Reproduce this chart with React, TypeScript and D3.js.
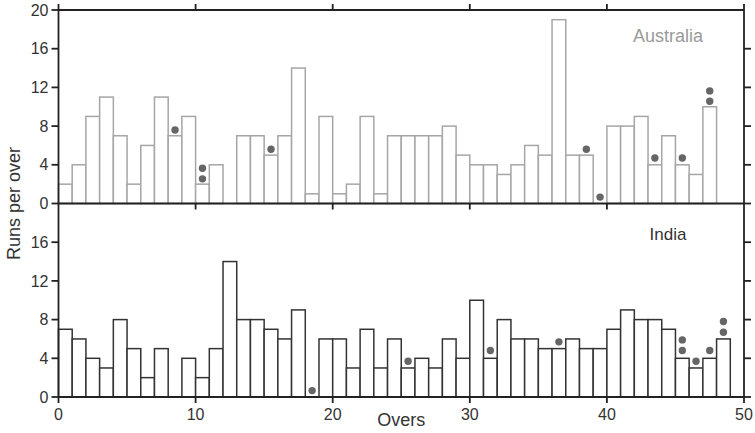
import React from "react";
import * as d3 from "d3";

const ausRuns = [2, 4, 9, 11, 7, 2, 6, 11, 7, 9, 2, 4, 0, 7, 7, 5, 7, 14, 1, 9, 1, 2, 9, 1, 7, 7, 7, 7, 8, 5, 4, 4, 3, 4, 6, 5, 19, 5, 5, 0, 8, 8, 9, 4, 7, 4, 3, 10];
const indRuns = [7, 6, 4, 3, 8, 5, 2, 5, 0, 4, 2, 5, 14, 8, 8, 7, 6, 9, 0, 6, 6, 3, 7, 3, 6, 3, 4, 3, 6, 4, 10, 4, 8, 6, 6, 5, 5, 6, 5, 5, 7, 9, 8, 8, 7, 4, 3, 4, 6];

const ausWicketOvers = [8, 10, 10, 15, 38, 39, 43, 45, 47, 47];
const ausWicketY = [7.6, 2.55, 3.65, 5.6, 5.6, 0.66, 4.7, 4.7, 10.57, 11.64];
const indWicketOvers = [18, 25, 31, 36, 45, 45, 46, 47, 48, 48];
const indWicketY = [0.66, 3.7, 4.8, 5.7, 4.8, 5.9, 3.7, 4.8, 6.7, 7.8];

const xTicks = [0, 10, 20, 30, 40, 50];
const topYTicks = [0, 4, 8, 12, 16, 20];
const botYTicks = [0, 4, 8, 12, 16];
const rightTicks = [4, 8, 12, 16];

const W = 755;
const H = 433;
const left = 58.5;
const right = 744;
const top = 10;
const mid = 203.5;
const bottom = 397;
const FONT = "'Liberation Sans', Arial, sans-serif";
const AXIS = "#222";
const TXT = "#333";

export default function App() {
  const x = d3.scaleLinear().domain([0, 50]).range([left, right]);
  const yTop = d3.scaleLinear().domain([0, 20]).range([mid, top]);
  const yBot = d3.scaleLinear().domain([0, 20]).range([bottom, mid]);

  const bars = (data: number[], y: d3.ScaleLinear<number, number>, stroke: string, key: string) =>
    data.map((v, i) =>
      v > 0 ? (
        <rect
          key={key + i}
          x={x(i)}
          y={y(v)}
          width={x(i + 1) - x(i)}
          height={y(0) - y(v)}
          fill="white"
          stroke={stroke}
          strokeWidth={1.5}
        />
      ) : null
    );

  const dots = (overs: number[], ys: number[], y: d3.ScaleLinear<number, number>, key: string) =>
    overs.map((o, i) => (
      <circle key={key + i} cx={x(o + 0.5)} cy={y(ys[i])} r={3.7} fill="#666" />
    ));

  const tl = 7;
  return (
    <svg width={W} height={H} style={{ position: "absolute", left: 0, top: 0, background: "white" }}>
      <rect x={0} y={0} width={W} height={H} fill="white" />
      {bars(ausRuns, yTop, "#a6a6a6", "a")}
      {bars(indRuns, yBot, "#333", "b")}
      {dots(ausWicketOvers, ausWicketY, yTop, "ad")}
      {dots(indWicketOvers, indWicketY, yBot, "bd")}

      <g stroke={AXIS} strokeWidth={1.8} fill="none">
        <line x1={left} x2={right} y1={top} y2={top} />
        <line x1={left} x2={right} y1={mid} y2={mid} />
        <line x1={left} x2={right} y1={bottom} y2={bottom} />
        <line x1={left} x2={left} y1={top} y2={bottom} />
        <line x1={right} x2={right} y1={top} y2={bottom} />
        {xTicks.map((t) => (
          <line key={"tt" + t} x1={x(t)} x2={x(t)} y1={top} y2={top - 6} />
        ))}
        {xTicks.slice(1, -1).map((t) => (
          <line key={"mt" + t} x1={x(t)} x2={x(t)} y1={mid} y2={mid + 6} />
        ))}
        {xTicks.map((t) => (
          <line key={"bt" + t} x1={x(t)} x2={x(t)} y1={bottom} y2={bottom + 6} />
        ))}
        {topYTicks.map((t) => (
          <line key={"lt" + t} x1={left} x2={left - tl} y1={yTop(t)} y2={yTop(t)} />
        ))}
        {botYTicks.map((t) => (
          <line key={"lb" + t} x1={left} x2={left - tl} y1={yBot(t)} y2={yBot(t)} />
        ))}
        {[0, ...rightTicks].map((t) => (
          <line key={"rt" + t} x1={right} x2={right + tl} y1={yTop(t)} y2={yTop(t)} />
        ))}
        {[0, ...rightTicks].map((t) => (
          <line key={"rb" + t} x1={right} x2={right + tl} y1={yBot(t)} y2={yBot(t)} />
        ))}
      </g>

      <g fontFamily={FONT} fontSize={16} fill={TXT}>
        {topYTicks.map((t) => (
          <text key={"lyt" + t} x={left - 10} y={yTop(t)} dy="0.35em" textAnchor="end">
            {t}
          </text>
        ))}
        {botYTicks.map((t) => (
          <text key={"lyb" + t} x={left - 10} y={yBot(t)} dy="0.35em" textAnchor="end">
            {t}
          </text>
        ))}
        {xTicks.map((t) => (
          <text key={"lx" + t} x={x(t)} y={420} textAnchor="middle">
            {t}
          </text>
        ))}
      </g>

      <text x={(left + right) / 2} y={426} textAnchor="middle" fontFamily={FONT} fontSize={18} fill={TXT}>
        Overs
      </text>
      <text
        transform={`translate(20,${(top + bottom) / 2}) rotate(-90)`}
        textAnchor="middle"
        fontFamily={FONT}
        fontSize={18}
        fill={TXT}
      >
        Runs per over
      </text>
      <text x={668} y={42} textAnchor="middle" fontFamily={FONT} fontSize={18} fill="#9a9a9a">
        Australia
      </text>
      <text x={668} y={240} textAnchor="middle" fontFamily={FONT} fontSize={17} fill="#333">
        India
      </text>
    </svg>
  );
}
